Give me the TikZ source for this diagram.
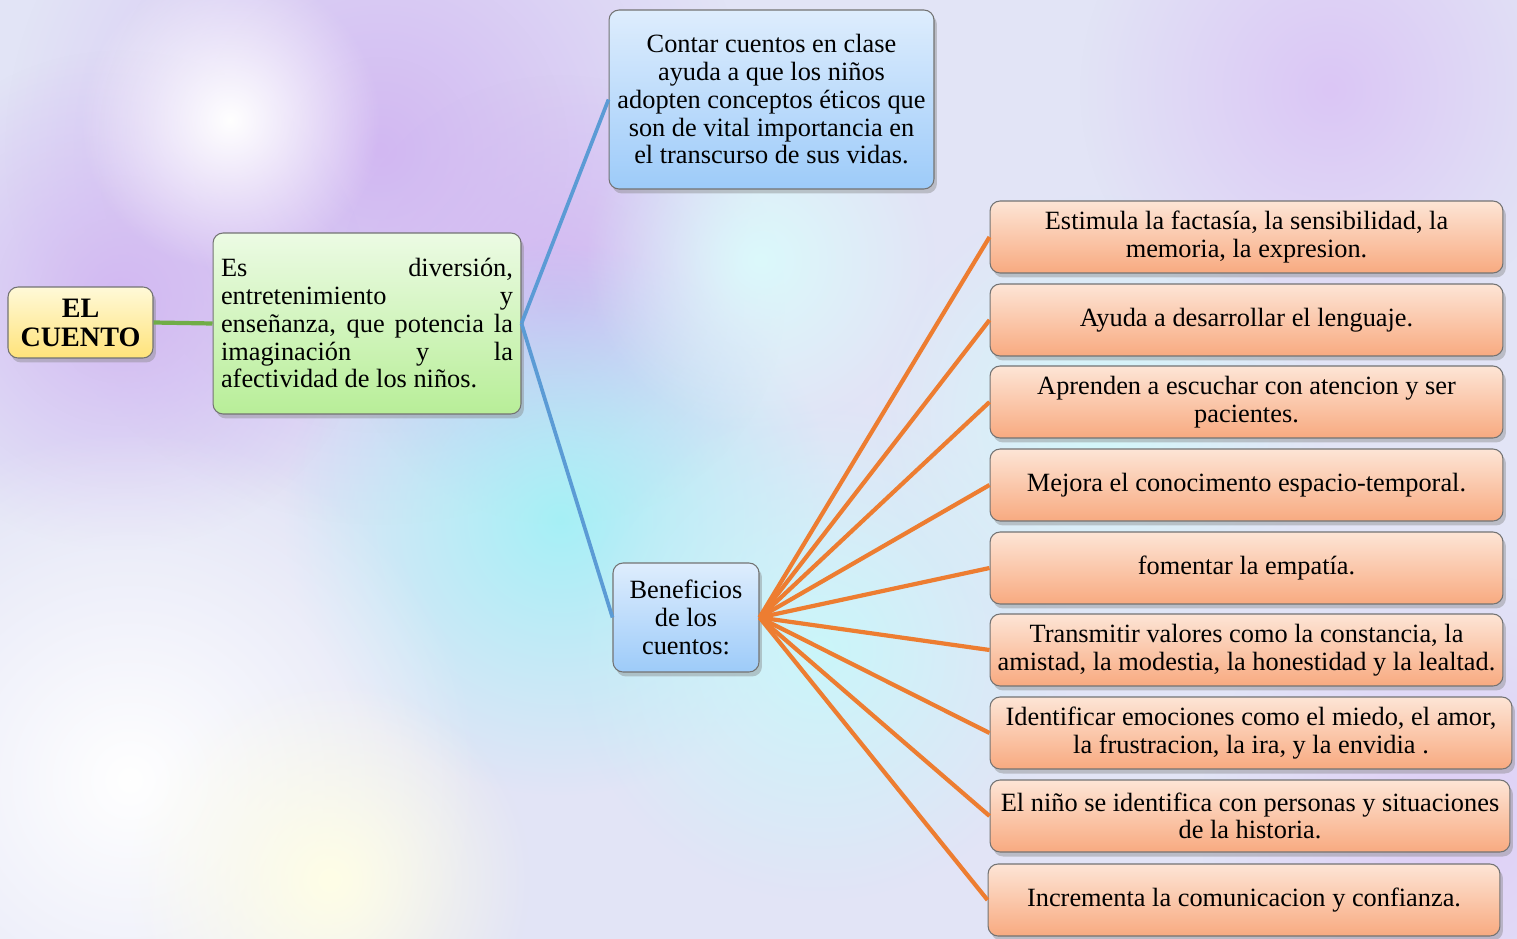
\documentclass[tikz,border=0pt]{standalone}
\usepackage{fontspec}
\setmainfont{Liberation Serif}
\usetikzlibrary{shadows,fadings}

\definecolor{fondo}{HTML}{E2E4F6}
\definecolor{lila}{HTML}{D2B8F2}
\definecolor{celeste}{HTML}{A6F0F6}
\definecolor{amarilloA}{HTML}{FFF9D8}
\definecolor{amarilloB}{HTML}{FFE37A}
\definecolor{verdeA}{HTML}{ECFBE4}
\definecolor{verdeB}{HTML}{B8EE98}
\definecolor{azulA}{HTML}{DEEDFD}
\definecolor{azulB}{HTML}{9DCBF9}
\definecolor{naranjaA}{HTML}{FDE5D6}
\definecolor{naranjaB}{HTML}{F8AA80}
\definecolor{lineaverde}{HTML}{70AD47}
\definecolor{lineaazul}{HTML}{5B9BD5}
\definecolor{lineanaranja}{HTML}{ED7D31}

\tikzfading[name=borroso, inner color=transparent!0, outer color=transparent!100]

\begin{document}
\begin{tikzpicture}[x=0.02cm,y=-0.02cm,
	caja/.style={rounded corners=0.2cm, draw=black!55, line width=0.6pt,
		drop shadow={shadow xshift=0.6mm, shadow yshift=-0.9mm, opacity=0.4},
		font=\fontsize{15}{15.8}\selectfont, align=center, inner sep=0.1cm},
	cuento/.style={caja, top color=amarilloA, bottom color=amarilloB,
		font=\fontsize{16}{16.5}\selectfont\bfseries},
	idea/.style={caja, top color=verdeA, bottom color=verdeB},
	rama/.style={caja, top color=azulA, bottom color=azulB},
	hoja/.style={caja, top color=naranjaA, bottom color=naranjaB,
		minimum width=10.26cm, minimum height=1.44cm},
	tronco/.style={line width=2.4pt, lineaverde},
	brazo/.style={line width=2.1pt, lineaazul},
	ramal/.style={line width=2.4pt, lineanaranja}
	]
	\useasboundingbox (0,0) rectangle (1517,939);
	
	% fondo
	\fill[fondo] (0,0) rectangle (1517,939);
	\fill[lila, path fading=borroso] (380,150) circle (7.5cm);
	\fill[lila, path fading=borroso] (560,300) circle (4.5cm);
	\fill[lila, path fading=borroso] (120,300) circle (5cm);
	\fill[white, path fading=borroso] (230,120) circle (3cm);
	\fill[celeste, path fading=borroso] (560,520) circle (5.5cm);
	\fill[celeste!60, path fading=borroso] (820,650) circle (5cm);
	\fill[celeste!40, path fading=borroso] (760,260) circle (3.5cm);
	\fill[white, path fading=borroso] (130,780) circle (7cm);
	\fill[white!90!yellow, path fading=borroso] (330,880) circle (4cm);
	\fill[lila!80, path fading=borroso] (1330,90) circle (5cm);
	\fill[lila!70, path fading=borroso] (1450,820) circle (5cm);
	\fill[celeste!50, path fading=borroso] (1100,420) circle (4.5cm);
	
	% nodos
	\node[cuento, minimum width=2.9cm, minimum height=1.42cm] (cuento) at (80.5,322.5) {EL\\CUENTO};
	\node[idea, minimum height=3.62cm, text width=5.84cm, inner xsep=0.16cm, align=justify] (resumen) at (367,323.5)
		{Es diversión,\linebreak entretenimiento y\linebreak enseñanza, que potencia la\linebreak imaginación y la\linebreak afectividad de los niños.};
	\node[rama, minimum width=6.5cm, minimum height=3.58cm] (contar) at (771.5,99.5)
		{Contar cuentos en clase\\ayuda a que los niños\\adopten conceptos éticos que\\son de vital importancia en\\el transcurso de sus vidas.};
	\node[rama, minimum width=2.92cm, minimum height=2.18cm] (beneficios) at (686,617.5)
		{Beneficios\\de los\\cuentos:};
	
	\node[hoja] (b1) at (1246.5,237) {Estimula la factasía, la sensibilidad, la\\memoria,  la expresion.};
	\node[hoja] (b2) at (1246.5,320) {Ayuda a desarrollar el lenguaje.};
	\node[hoja] (b3) at (1246.5,402) {Aprenden a escuchar con atencion y ser\\pacientes.};
	\node[hoja] (b4) at (1246.5,485) {Mejora el conocimento espacio-temporal.};
	\node[hoja] (b5) at (1246.5,568) {fomentar la empatía.};
	\node[hoja] (b6) at (1246.5,650) {Transmitir valores como la constancia, la\\amistad, la modestia, la honestidad y la lealtad.};
	\node[hoja, minimum width=10.44cm] (b7) at (1251,733) {Identificar emociones como el miedo, el amor,\\la frustracion, la ira, y la envidia .};
	\node[hoja, minimum width=10.4cm] (b8) at (1250,816) {El niño se identifica con personas y situaciones\\de la historia.};
	\node[hoja, minimum width=10.24cm] (b9) at (1244,900) {Incrementa la comunicacion y confianza.};
	
	% conectores
	\draw[tronco] (cuento.east) -- (resumen.west);
	\draw[brazo] (resumen.east) -- (contar.west);
	\draw[brazo] (resumen.east) -- (beneficios.west);
	\foreach \i in {1,...,9}
		\draw[ramal] (beneficios.east) -- (b\i.west);
\end{tikzpicture}
\end{document}
